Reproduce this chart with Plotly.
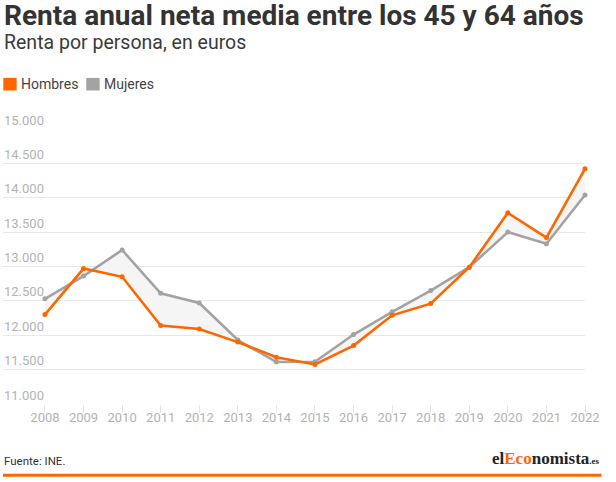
import plotly.graph_objects as go

years = list(range(2008, 2023))
hombres = [12300, 12970, 12850, 12140, 12090, 11900, 11680, 11575, 11850, 12290, 12460, 12990, 13780, 13420, 14420]
mujeres = [12530, 12860, 13240, 12610, 12470, 11930, 11610, 11615, 12010, 12340, 12650, 12990, 13500, 13330, 14040]
y_ticks = [11000, 11500, 12000, 12500, 13000, 13500, 14000, 14500, 15000]
y_labels = ["11.000", "11.500", "12.000", "12.500", "13.000", "13.500", "14.000", "14.500", "15.000"]
x_labels = [str(y) for y in years]

ORANGE = "#ff6600"
GRAY = "#a3a3a3"
FILL = "#f5f5f5"
W, H = 616, 482
L, R, T, B = 3, 30.5, 129.3, 77.7
PW = W - L - R
PH = H - T - B
PER_YEAR = (585.5 - 45) / 14


def px(p):
    return (p - L) / PW


def py(p):
    return (H - B - p) / PH


fig = go.Figure()
fig.add_trace(go.Scatter(
    x=years, y=mujeres, name="Mujeres", mode="lines+markers",
    line=dict(color=GRAY, width=2.6), marker=dict(color=GRAY, size=5),
    cliponaxis=False, hoverinfo="skip"))
fig.add_trace(go.Scatter(
    x=years, y=hombres, name="Hombres", mode="lines+markers",
    line=dict(color=ORANGE, width=2.6), marker=dict(color=ORANGE, size=5),
    fill="tonexty", fillcolor=FILL,
    cliponaxis=False, hoverinfo="skip"))

ann = []
# title
ann.append(dict(text="<b>Renta anual neta media entre los 45 y 64 años</b>", x=px(2), y=py(15.8),
                xref="paper", yref="paper", xanchor="left", yanchor="middle", showarrow=False,
                font=dict(family="Roboto", size=28, color="#333333")))
ann.append(dict(text="Renta por persona, en euros", x=px(2), y=py(43),
                xref="paper", yref="paper", xanchor="left", yanchor="middle", showarrow=False,
                font=dict(family="Roboto", size=19.5, color="#3a3a3a")))
# legend
ann.append(dict(text="Hombres", x=px(19), y=py(84.5), xref="paper", yref="paper",
                xanchor="left", yanchor="middle", showarrow=False,
                font=dict(family="Roboto", size=14, color="#444444")))
ann.append(dict(text="Mujeres", x=px(102), y=py(84.5), xref="paper", yref="paper",
                xanchor="left", yanchor="middle", showarrow=False,
                font=dict(family="Roboto", size=14, color="#444444")))
# y tick labels above gridlines
for v, lab in zip(y_ticks, y_labels):
    ann.append(dict(text=lab, x=px(2), y=v, xref="paper", yref="y", xanchor="left",
                    yanchor="middle", yshift=9, showarrow=False,
                    font=dict(family="Roboto", size=13, color="#b3b3b3")))
# footer
ann.append(dict(text="Fuente: INE.", x=px(2), y=py(461.4), xref="paper", yref="paper",
                xanchor="left", yanchor="middle", showarrow=False,
                font=dict(family="Roboto", size=11.5, color="#333333")))
ann.append(dict(text="<b>el<span style='color:#ff6600'>Eco</span>nomista<span style='font-size:9px'>.es</span></b>",
                x=px(603), y=py(458.5), xref="paper", yref="paper",
                xanchor="right", yanchor="middle", showarrow=False,
                font=dict(family="Liberation Serif", size=17, color="#222222")))

shapes = [
    dict(type="rect", xref="paper", yref="paper", x0=px(3.3), x1=px(16.7), y0=py(78.2), y1=py(90.8),
         fillcolor=ORANGE, line=dict(width=0)),
    dict(type="rect", xref="paper", yref="paper", x0=px(86.3), x1=px(99.7), y0=py(78.2), y1=py(90.8),
         fillcolor=GRAY, line=dict(width=0)),
    dict(type="line", xref="paper", yref="paper", x0=px(3), x1=px(602), y0=py(475.5), y1=py(475.5),
         line=dict(color=ORANGE, width=3)),
]

fig.update_layout(
    width=W, height=H,
    margin=dict(l=L, r=R, t=T, b=B, autoexpand=False),
    paper_bgcolor="white", plot_bgcolor="white",
    showlegend=False,
    font=dict(family="Roboto"),
    annotations=ann, shapes=shapes,
    xaxis=dict(range=[2008 - (45 - L) / PER_YEAR, 2022], tickvals=years, ticktext=x_labels,
               showgrid=False, zeroline=False, showline=False,
               ticks="outside", ticklen=8, tickcolor="#e6e6e6", tickwidth=1,
               ticklabelstandoff=-7,
               tickfont=dict(family="Roboto", size=13, color="#b3b3b3"), fixedrange=True),
    yaxis=dict(range=[11000, 15000], tickvals=y_ticks, showticklabels=False,
               showgrid=True, gridcolor="#e8e8e8", gridwidth=1, zeroline=False, showline=False,
               fixedrange=True),
)

fig.write_html("out.html", config={"displayModeBar": False},
               post_script="document.body.style.margin='0';document.body.style.overflow='hidden';")
